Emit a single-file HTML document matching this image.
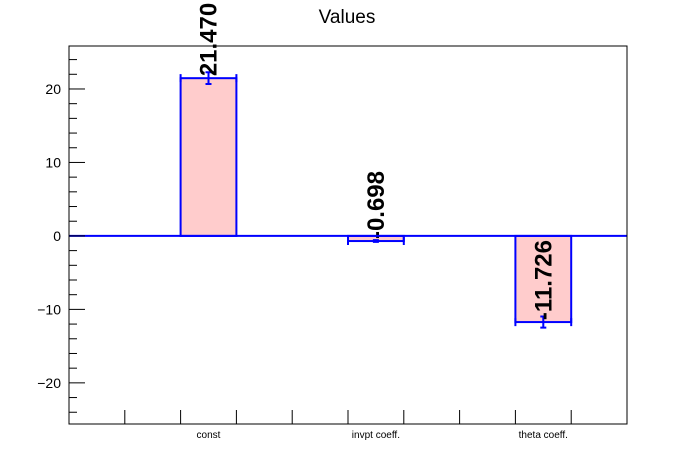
<!DOCTYPE html>
<html><head><meta charset="utf-8"><style>
body{margin:0;background:#fff;}
svg{display:block;font-family:"Liberation Sans",Arial,sans-serif;}
</style></head><body>
<svg id="c" width="696" height="472">
<rect width="696" height="472" fill="#fff"/>
<text x="347" y="23" font-size="19" text-anchor="middle">Values</text>
<g id="g"></g>
</svg>
<script>
const categories=["const","invpt coeff.","theta coeff."];
const values=[21.470,-0.698,-11.726];
const errors=[0.8,0.12,0.75];
const labels=["21.470","-0.698","-11.726"];
const yTicks=[-20,-10,0,10,20];
const L=69,R=627,T=46,B=424,yMin=-25.6,yMax=25.85;
const y=v=>T+(yMax-v)/(yMax-yMin)*(B-T);
const div=(R-L)/10;
const bx=i=>L+div*(2+3*i);
const NS="http://www.w3.org/2000/svg";
const g=document.getElementById('g');
function mk(t,a,txt){const e=document.createElementNS(NS,t);for(const k in a)e.setAttribute(k,a[k]);if(txt!==undefined)e.textContent=txt;g.appendChild(e);return e;}
// bars
categories.forEach((c,i)=>{
  const x0=bx(i),x1=x0+div,v=values[i],yv=y(v),y0=y(0);
  let e=mk('rect',{x:x0,y:Math.min(yv,y0),width:div,height:Math.abs(yv-y0),fill:'#ffcccc',stroke:'#0000ff','stroke-width':2});
  
  
  e=mk('path',{d:`M${x0} ${yv-4}V${yv+4}M${x1} ${yv-4}V${yv+4}`,stroke:'#0000ff','stroke-width':2});
  
  
  const xc=x0+div/2,ya=y(v+errors[i]),yb=y(v-errors[i]);
  e=mk('path',{d:`M${xc} ${ya}V${yb}M${xc-3} ${ya}H${xc+3}M${xc-3} ${yb}H${xc+3}`,stroke:'#0000ff','stroke-width':2});
  
  
  const ly=yv-2;
  e=mk('text',{x:0,y:0,transform:`translate(${xc+8},${ly}) rotate(-90)`,'font-size':24,'font-weight':'bold'},labels[i]);
  
  
  e=mk('text',{x:xc,y:438,'font-size':10,'text-anchor':'middle'},c);
  
  
});
// zero line
let z=mk('line',{x1:L,x2:R,y1:y(0),y2:y(0),stroke:'#0000ff','stroke-width':2});


// frame
let f=mk('rect',{x:L,y:T,width:R-L,height:B-T,fill:'none',stroke:'#000','stroke-width':1});


// y ticks
for(let v=-24;v<=24;v+=2){
  const major=v%10===0;
  let t=mk('line',{x1:L,x2:L+(major?16:8),y1:y(v),y2:y(v),stroke:'#000'});
  
  
}
yTicks.forEach(v=>{
  let t=mk('text',{x:L-8,y:y(v)+5,'font-size':14,'text-anchor':'end'},v<0?'\u2212'+(-v):String(v));
  
  
});
// x ticks
for(let k=1;k<10;k++){
  let t=mk('line',{x1:L+div*k,x2:L+div*k,y1:B,y2:B-14,stroke:'#000'});
  
  
}
</script>
</body></html>
